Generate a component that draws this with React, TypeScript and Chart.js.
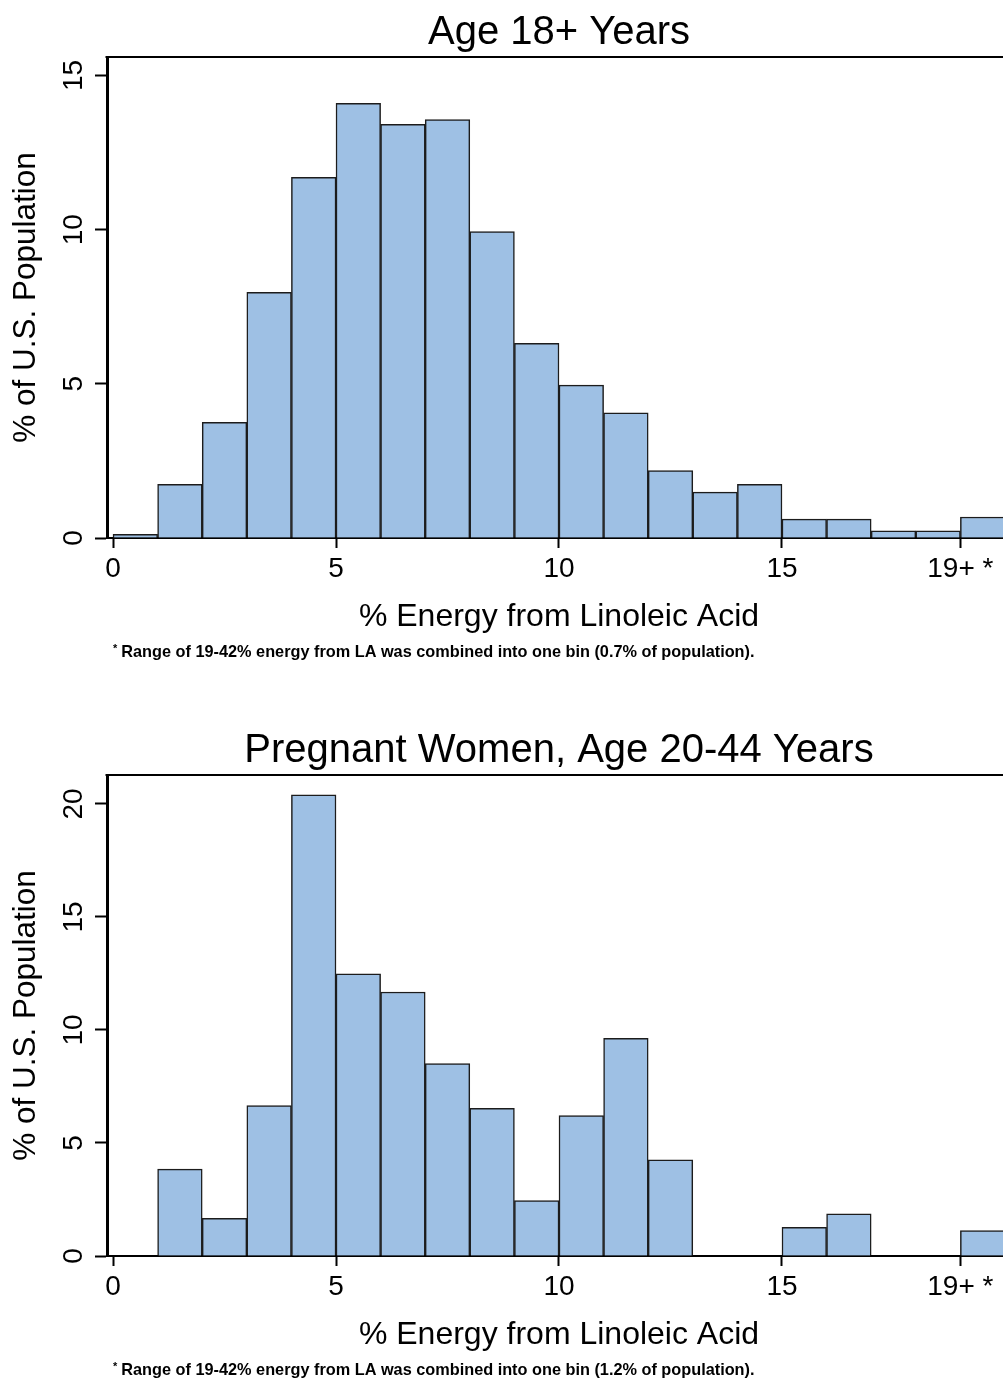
import React, { useEffect, useRef } from 'react';
import { Chart, registerables } from 'chart.js';

Chart.register(...registerables);

// ---- data ----
const binStarts = [0, 1, 2, 3, 4, 5, 6, 7, 8, 9, 10, 11, 12, 13, 14, 15, 16, 17, 18, 19];
const adultValues = [0.12, 1.74, 3.75, 7.97, 11.7, 14.1, 13.42, 13.57, 9.94, 6.31, 4.96, 4.06, 2.19, 1.49, 1.74, 0.61, 0.61, 0.23, 0.23, 0.68];
const pregnantValues = [0, 3.84, 1.67, 6.65, 20.4, 12.48, 11.68, 8.51, 6.53, 2.45, 6.21, 9.63, 4.26, 0, 0, 1.27, 1.87, 0, 0, 1.12];
const xTickValues = [0, 5, 10, 15, 19];
const xTickLabels = ['0', '5', '10', '15', '19+ *'];
const adultYTicks = [0, 5, 10, 15];
const pregnantYTicks = [0, 5, 10, 15, 20];
const adultYMax = 15.6;
const pregnantYMax = 21.28;
const xMin = -0.135;
const xMax = 20.135;

const adultTitle = 'Age 18+ Years';
const pregnantTitle = 'Pregnant Women, Age 20-44 Years';
const xAxisTitle = '% Energy from Linoleic Acid';
const yAxisTitle = '% of U.S. Population';
const noteMark = '*';
const adultNote = 'Range of 19-42% energy from LA was combined into one bin (0.7% of population).';
const pregnantNote = 'Range of 19-42% energy from LA was combined into one bin (1.2% of population).';

const FONT = '"Liberation Sans", Arial, Helvetica, sans-serif';
const NARROW = '"Liberation Sans Narrow", "Liberation Sans", Arial, sans-serif';
const BAR_FILL = 'rgb(158,192,228)';
const BAR_LINE = '#1c1c1c';

const frameNotePlugin = {
  id: 'frameNote',
  afterDraw(chart: any, _args: any, opts: any) {
    const { ctx, chartArea } = chart;
    ctx.save();
    ctx.strokeStyle = '#000';
    ctx.lineWidth = 2;
    ctx.beginPath();
    ctx.moveTo(chartArea.left - 1.5, chartArea.top);
    ctx.lineTo(chartArea.right, chartArea.top);
    ctx.stroke();
    ctx.fillStyle = '#000';
    ctx.textBaseline = 'alphabetic';
    ctx.textAlign = 'left';
    const x0 = chartArea.left + 6;
    const yb = chartArea.bottom + 119;
    ctx.font = `bold 11px ${NARROW}`;
    ctx.fillText(noteMark, x0, yb - 5);
    const w = ctx.measureText(noteMark).width;
    ctx.font = `bold 16.3px ${NARROW}`;
    ctx.fillText(opts.text, x0 + w + 4, yb);
    ctx.restore();
  },
};

function makeConfig(values: number[], yTicks: number[], yMax: number, title: string, note: string): any {
  return {
    type: 'bar',
    data: {
      datasets: [
        {
          data: binStarts.map((s, i) => ({ x: s + 0.5, y: values[i] })),
          backgroundColor: BAR_FILL,
          borderColor: BAR_LINE,
          borderWidth: 1.5,
          borderSkipped: 'start',
          barPercentage: 1,
          categoryPercentage: 1,
          grouped: false,
        },
      ],
    },
    options: {
      animation: false,
      responsive: false,
      maintainAspectRatio: false,
      devicePixelRatio: 1,
      layout: { padding: { left: 0, right: 9, top: 0, bottom: 70 } },
      plugins: {
        legend: { display: false },
        tooltip: { enabled: false },
        title: {
          display: true,
          fullSize: false,
          text: title,
          color: '#000',
          font: { family: FONT, size: 40, weight: 'normal', lineHeight: 1 },
          padding: { top: 13, bottom: 4 },
        },
        frameNote: { text: note },
      },
      scales: {
        x: {
          type: 'linear',
          min: xMin,
          max: xMax,
          offset: false,
          afterBuildTicks: (s: any) => {
            s.ticks = xTickValues.map((v) => ({ value: v }));
          },
          afterFit: (s: any) => {
            s.height = 110;
          },
          ticks: {
            callback: (v: any) => {
              const i = xTickValues.indexOf(Number(v));
              return i >= 0 ? xTickLabels[i] : '';
            },
            font: { family: FONT, size: 28 },
            color: '#000',
            padding: 4,
            autoSkip: false,
            maxRotation: 0,
            minRotation: 0,
          },
          grid: {
            offset: false,
            drawOnChartArea: false,
            drawTicks: true,
            tickLength: 10,
            tickColor: '#000',
            tickWidth: 2,
          },
          border: { display: true, color: '#000', width: 2 },
          title: {
            display: true,
            text: xAxisTitle,
            color: '#000',
            font: { family: FONT, size: 32 },
            padding: { top: 0, bottom: 12 },
          },
        },
        y: {
          type: 'linear',
          min: 0,
          max: yMax,
          afterBuildTicks: (s: any) => {
            s.ticks = yTicks.map((v) => ({ value: v }));
          },
          afterFit: (s: any) => {
            s.width = 107;
          },
          ticks: {
            font: { family: FONT, size: 28 },
            color: '#000',
            padding: 5.5,
            minRotation: 90,
            maxRotation: 90,
            crossAlign: 'center',
            autoSkip: false,
          },
          grid: {
            drawOnChartArea: false,
            drawTicks: true,
            tickLength: 12,
            tickColor: '#000',
            tickWidth: 2,
          },
          border: { display: true, color: '#000', width: 3 },
          title: {
            display: true,
            text: yAxisTitle,
            color: '#000',
            font: { family: FONT, size: 31.5 },
            padding: { top: 7, bottom: 0 },
          },
        },
      },
    },
    plugins: [frameNotePlugin],
  };
}

export default function App() {
  const topRef = useRef<HTMLCanvasElement | null>(null);
  const bottomRef = useRef<HTMLCanvasElement | null>(null);

  useEffect(() => {
    document.body.style.margin = '0';
    const charts: Chart[] = [];
    if (topRef.current) {
      charts.push(new Chart(topRef.current, makeConfig(adultValues, adultYTicks, adultYMax, adultTitle, adultNote)));
    }
    if (bottomRef.current) {
      charts.push(new Chart(bottomRef.current, makeConfig(pregnantValues, pregnantYTicks, pregnantYMax, pregnantTitle, pregnantNote)));
    }
    return () => {
      charts.forEach((c) => c.destroy());
    };
  }, []);

  return (
    <div
      style={{
        position: 'absolute',
        left: 0,
        top: 0,
        width: 1003,
        height: 1382,
        overflow: 'hidden',
        background: '#fff',
      }}
    >
      <canvas ref={topRef} width={1020} height={718} style={{ display: 'block', width: 1020, height: 718 }} />
      <canvas ref={bottomRef} width={1020} height={718} style={{ display: 'block', width: 1020, height: 718 }} />
    </div>
  );
}
